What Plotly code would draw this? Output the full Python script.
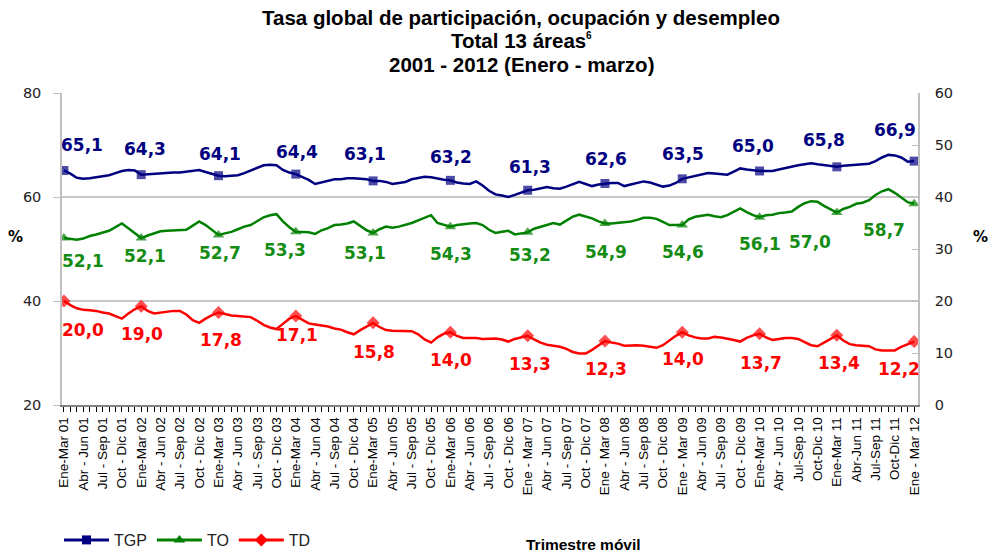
import plotly.graph_objects as go

# ---------------- data ----------------
tgp = [65.1, 64.5, 63.7, 63.5, 63.6, 63.8, 64.0, 64.2, 64.6, 65.0, 65.2, 65.1,
       64.3, 64.4, 64.5, 64.5, 64.6, 64.7, 64.7, 64.9, 65.1, 65.2, 64.8, 64.5,
       64.1, 64.0, 64.1, 64.2, 64.6, 65.1, 65.6, 66.1, 66.2, 66.1, 65.2, 64.7,
       64.4, 63.9, 63.3, 62.5, 62.8, 63.1, 63.4, 63.4, 63.6, 63.6, 63.5, 63.4,
       63.1, 63.1, 62.9, 62.5, 62.7, 62.9, 63.4, 63.6, 63.9, 63.8, 63.5, 63.3,
       63.2, 62.8, 62.6, 62.5, 63.0, 62.2, 61.2, 60.5, 60.3, 60.0, 60.4, 60.9,
       61.3, 61.4, 61.6, 61.9, 61.7, 61.6, 62.0, 62.5, 62.9, 62.5, 62.1, 62.4,
       62.6, 62.7, 62.7, 62.1, 62.4, 62.7, 63.0, 62.8, 62.4, 62.0, 62.2, 62.7,
       63.5, 63.8, 64.0, 64.3, 64.6, 64.5, 64.4, 64.3, 64.9, 65.5, 65.3, 65.1,
       65.0, 65.0, 65.0, 65.3, 65.6, 65.9, 66.1, 66.3, 66.5, 66.3, 66.1, 66.0,
       65.8, 66.0, 66.1, 66.2, 66.3, 66.4, 66.9, 67.6, 68.1, 68.0, 67.6, 66.8,
       66.9]

to = [52.1, 52.0, 51.8, 52.0, 52.5, 52.8, 53.1, 53.5, 54.2, 54.9, 54.0, 53.0,
      52.1, 52.6, 53.0, 53.4, 53.5, 53.6, 53.6, 53.7, 54.5, 55.3, 54.6, 53.6,
      52.7, 53.0, 53.3, 53.8, 54.3, 54.6, 55.4, 56.1, 56.5, 56.7, 55.3, 54.2,
      53.3, 53.3, 53.2, 52.9, 53.6, 54.0, 54.6, 54.7, 54.9, 55.3, 54.5, 53.6,
      53.1, 53.8, 54.3, 54.1, 54.3, 54.6, 55.0, 55.5, 56.0, 56.5, 55.0, 54.6,
      54.3, 54.6, 54.8, 54.9, 55.0, 54.6, 53.7, 53.1, 53.3, 53.5, 52.8, 53.0,
      53.2, 53.9, 54.3, 54.7, 55.0, 54.7, 55.4, 56.2, 56.6, 56.3, 55.9, 55.3,
      54.9, 54.9, 55.0, 55.1, 55.3, 55.6, 56.0, 56.0, 55.8, 55.2, 54.6, 54.6,
      54.6, 55.7, 56.2, 56.4, 56.6, 56.3, 56.1, 56.5, 57.2, 57.8, 57.1, 56.5,
      56.1, 56.5, 56.6, 56.9, 57.0, 57.2, 58.1, 58.8, 59.2, 59.1, 58.3, 57.6,
      57.0, 57.7, 58.1, 58.7, 58.9, 59.4, 60.4, 61.1, 61.5, 60.8, 59.9, 59.0,
      58.7]

td = [20.0, 19.2, 18.6, 18.3, 18.2, 18.1, 17.8, 17.6, 17.1, 16.6, 17.6, 18.4,
      19.0, 18.1, 17.6, 17.8, 18.0, 18.1, 18.1, 17.4, 16.3, 15.8, 16.6, 17.3,
      17.8, 17.5, 17.2, 17.1, 17.0, 16.9, 16.2, 15.4, 14.9, 14.6, 15.6, 16.6,
      17.1, 16.4, 15.7, 15.5, 15.3, 15.1, 14.7, 14.5, 14.0, 13.6, 14.4, 15.1,
      15.8, 15.0, 14.4, 14.3, 14.3, 14.2, 14.2, 13.6, 12.6, 12.0, 13.0, 13.7,
      14.0, 13.3, 12.9, 12.9, 12.9, 12.7, 12.7, 12.8, 12.6, 12.2, 12.7, 13.0,
      13.3, 12.6, 12.0, 11.6, 11.4, 11.2, 10.8, 10.2, 9.9, 9.9, 10.6, 11.5,
      12.3, 12.0, 11.8, 11.4, 11.5, 11.5, 11.4, 11.2, 11.0, 11.5, 12.4, 13.3,
      14.0, 13.4, 13.0, 12.8, 12.8, 13.1, 13.0, 12.8, 12.5, 12.2, 12.9, 13.4,
      13.7, 13.0, 12.5, 12.7, 12.9, 12.9, 12.7, 12.1, 11.5, 11.3, 12.0, 12.8,
      13.4, 12.4, 11.7, 11.5, 11.4, 11.3, 10.7, 10.5, 10.5, 10.5, 11.2, 11.7,
      12.2]

tick_labels = [
    "Ene-Mar 01", "Abr - Jun 01", "Jul - Sep 01", "Oct - Dic 01",
    "Ene-Mar 02", "Abr - Jun 02", "Jul - Sep 02", "Oct - Dic 02",
    "Ene-Mar 03", "Abr - Jun 03", "Jul - Sep 03", "Oct - Dic 03",
    "Ene-Mar 04", "Abr - Jun 04", "Jul - Sep 04", "Oct - Dic 04",
    "Ene-Mar 05", "Abr - Jun 05", "Jul - Sep 05", "Oct - Dic 05",
    "Ene-Mar 06", "Abr - Jun 06", "Jul - Sep 06", "Oct - Dic 06",
    "Ene - Mar 07", "Abr - Jun 07", "Jul - Sep 07", "Oct - Dic 07",
    "Ene - Mar 08", "Abr - Jun 08", "Jul - Sep 08", "Oct - Dic 08",
    "Ene - Mar 09", "Abr - Jun 09", "Jul - Sep 09", "Oct - Dic 09",
    "Ene-Mar 10", "Abr - Jun 10", "Jul-Sep 10", "Oct-Dic 10",
    "Ene-Mar 11", "Abr-Jun 11", "Jul-Sep 11", "Oct-Dic 11",
    "Ene - Mar 12",
]

series_names = ["TGP", "TO", "TD"]

# ---------------- styles ----------------
n = len(tgp)
x = list(range(n))
marker_idx = list(range(0, n, 12))
tick_idx = list(range(0, n, 3))

line_colors = {"TGP": "#000080", "TO": "#008000", "TD": "#FF0000"}
label_colors = {"TGP": "#000080", "TO": "#148C14", "TD": "#FF0000"}
symbols = {"TGP": "square", "TO": "triangle-up", "TD": "diamond"}
msizes = {"TGP": 9, "TO": 10, "TD": 10}
axes = {"TGP": "y", "TO": "y", "TD": "y2"}
values = {"TGP": tgp, "TO": to, "TD": td}

# label offsets (px) for data labels at each Ene-Mar point
dx = {
    "TGP": [18, 4, 1, 1, -8, 1, 2, 1, 1, -7, -13, -19],
    "TO": [19, 4, 1, -11, -8, 1, 2, 1, 1, 0, -27, -30],
    "TD": [19, 1, 2, 1, 1, 1, 2, 1, 1, 1, 2, -15],
}
dy = {
    "TGP": [25, 26, 22, 22, 27, 23, 23, 24, 25, 25, 27, 31],
    "TO": [-23, -18, -18, -18, -20, -27, -23, -28, -27, -27, -29, -26],
    "TD": [-29, -28, -28, -19, -29, -28, -28, -28, -27, -29, -28, -27],
}

W, H = 990, 553
L, R, T, B = 62, 72, 93, 148
PW, PH = W - L - R, H - T - B


def px(xp):
    return (xp - L) / PW


def py(yp):
    return (H - B - yp) / PH


fig = go.Figure()

for name in series_names:
    vals = values[name]
    sizes = [msizes[name] if i % 12 == 0 else 0 for i in x]
    fig.add_trace(go.Scatter(
        x=x, y=vals, mode="lines+markers", name=name, showlegend=False,
        yaxis=axes[name],
        line=dict(color=line_colors[name], width=2.5),
        marker=dict(symbol=symbols[name], size=sizes, color=line_colors[name],
                    line=dict(width=0)),
        hoverinfo="skip",
    ))

# legend entries
for name in series_names:
    fig.add_trace(go.Scatter(
        x=[None], y=[None], mode="lines+markers", name=name,
        line=dict(color=line_colors[name], width=3),
        marker=dict(symbol=symbols[name], size=msizes[name], color=line_colors[name]),
    ))

annotations = []
for name in series_names:
    vals = values[name]
    for k, i in enumerate(marker_idx):
        annotations.append(dict(
            x=i, y=vals[i], xref="x", yref=axes[name],
            text=f"{vals[i]:.1f}".replace(".", ","),
            showarrow=False, xshift=dx[name][k], yshift=dy[name][k],
            font=dict(family="DejaVu Sans", size=17, color=label_colors[name],
                      weight="bold"),
        ))

# title lines
title_font = dict(family="Liberation Sans, Arial", size=20.5, color="#000000", weight="bold")
annotations.append(dict(x=px(521), y=py(17), xref="paper", yref="paper",
                        xanchor="center", yanchor="middle", showarrow=False,
                        text="Tasa global de participación, ocupación y desempleo",
                        font=title_font))
annotations.append(dict(x=px(588), y=py(41), xref="paper", yref="paper",
                        xanchor="right", yanchor="middle", showarrow=False,
                        text="Total 13 áreas", font=title_font))
annotations.append(dict(x=px(584), y=py(35), xref="paper", yref="paper",
                        xanchor="left", yanchor="middle", showarrow=False,
                        text="6", font=dict(family="Liberation Sans, Arial", size=10,
                                            color="#000000", weight="bold")))
annotations.append(dict(x=px(521), y=py(64), xref="paper", yref="paper",
                        xanchor="center", yanchor="middle", showarrow=False,
                        text="2001 - 2012 (Enero - marzo)", font=title_font))

# axis titles
pct_font = dict(family="DejaVu Sans", size=15, color="#000000", weight="bold")
annotations.append(dict(x=px(15), y=py(237), xref="paper", yref="paper",
                        text="%", showarrow=False, font=pct_font,
                        xanchor="center", yanchor="middle"))
annotations.append(dict(x=px(980), y=py(237), xref="paper", yref="paper",
                        text="%", showarrow=False, font=pct_font,
                        xanchor="center", yanchor="middle"))
annotations.append(dict(x=px(583), y=py(544), xref="paper", yref="paper",
                        text="Trimestre móvil", showarrow=False,
                        font=dict(family="Liberation Sans, Arial", size=15.5,
                                  color="#000000", weight="bold"),
                        xanchor="center", yanchor="middle"))

fig.update_layout(
    width=W, height=H,
    margin=dict(l=L, r=R, t=T, b=B, pad=0, autoexpand=False),
    paper_bgcolor="white", plot_bgcolor="white",
    annotations=annotations,
    showlegend=True,
    legend=dict(orientation="h", xref="container", yref="container",
                x=59 / W, y=(H - 540) / H,
                xanchor="left", yanchor="middle",
                font=dict(family="Liberation Sans, Arial", size=16, color="#222222"),
                bgcolor="rgba(0,0,0,0)", itemwidth=45),
    xaxis=dict(
        range=[-0.3, n - 1 + 0.6],
        tickmode="array", tickvals=tick_idx, ticktext=tick_labels,
        tickangle=-90, ticks="outside", ticklen=5, tickcolor="#000000",
        tickfont=dict(family="Liberation Sans, Arial", size=13.5, color="#000000"),
        showgrid=False, zeroline=False, automargin=False,
        showline=True, linecolor="#808080", linewidth=1.5,
        minor=dict(tickmode="linear", tick0=0, dtick=1, ticks="outside",
                   ticklen=5, tickcolor="#000000", showgrid=False),
    ),
    yaxis=dict(
        range=[20, 80], tickmode="linear", tick0=20, dtick=20,
        ticks="outside", ticklen=7, tickcolor="#C0C0C0",
        tickfont=dict(family="DejaVu Sans", size=14.5, color="#222222"),
        showgrid=True, gridcolor="#C8C8C8", gridwidth=1.5,
        zeroline=False, showline=True, linecolor="#C0C0C0", linewidth=1.5,
        ticklabelstandoff=9, automargin=False,
    ),
    yaxis2=dict(
        range=[0, 60], tickmode="linear", tick0=0, dtick=10,
        overlaying="y", side="right",
        ticks="inside", ticklen=6, tickcolor="#C0C0C0",
        tickfont=dict(family="DejaVu Sans", size=14.5, color="#222222"),
        showgrid=False, zeroline=False, automargin=False,
        showline=True, linecolor="#C0C0C0", linewidth=1.5,
        ticklabelstandoff=12,
    ),
)

fig.write_html("out.html",
               config={"displayModeBar": False},
               post_script="document.body.style.margin='0px';"
                           "document.body.style.padding='0px';")
